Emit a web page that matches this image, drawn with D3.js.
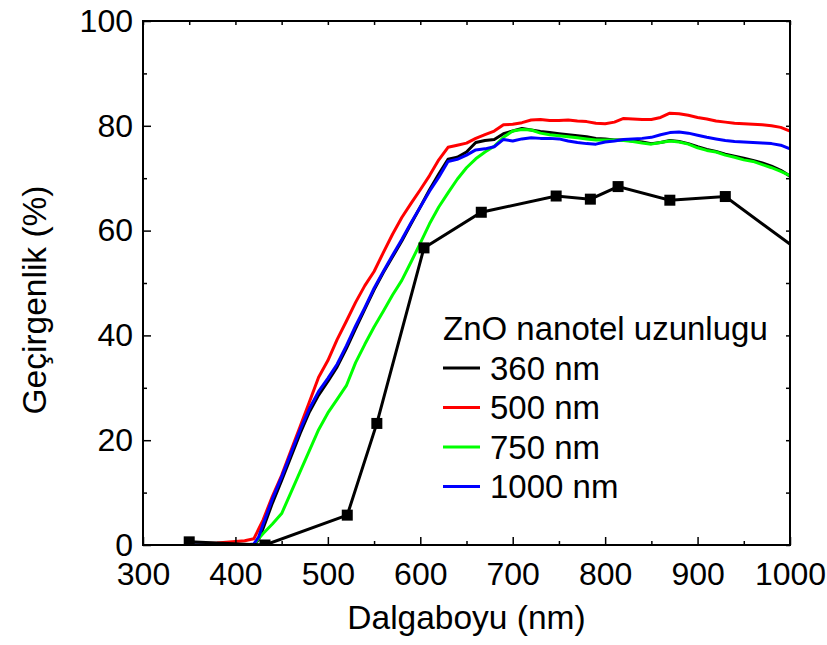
<!DOCTYPE html>
<html>
<head>
<meta charset="utf-8">
<script src="https://cdn.jsdelivr.net/npm/d3@7"></script>
<style>
  body { margin: 0; background: #fff; }
  text { font-family: "Liberation Sans", Arial, sans-serif; fill: #000; }
</style>
</head>
<body>
<svg id="chart" width="827" height="645"></svg>
<script>
// wavelength grid (nm) for the measured spectra
var wavelengths = [350, 380, 410, 420, 425, 430, 440, 450, 460, 470, 480, 490, 500, 510, 520, 530, 540, 550, 560, 570,
    580, 590, 600, 610, 620, 630, 640, 650, 660, 670, 680, 690, 700, 710, 720, 730, 740, 750, 760, 770,
    780, 790, 800, 810, 820, 830, 840, 850, 860, 870, 880, 890, 900, 910, 920, 930, 940, 950, 960, 970,
    980, 990, 1000];

// transmittance (%) per nanowire length
var t360 = [0, 0, 0, 0, 1.0, 3.2, 8.0, 12.3, 16.8, 21.3, 25.4, 28.6, 31.2, 34.0, 37.5, 41.3, 45.0, 48.7, 52.0, 55.0,
    58.0, 61.3, 64.5, 67.8, 70.8, 73.6, 74.0, 75.0, 76.8, 77.2, 77.4, 78.5, 79.0, 79.5, 79.2, 78.9, 78.7, 78.5, 78.3, 78.1,
    77.9, 77.6, 77.5, 77.3, 77.3, 77.1, 76.9, 76.6, 76.8, 77.2, 77.0, 76.6, 76.0, 75.5, 75.1, 74.6, 74.2, 73.8, 73.4, 72.9,
    72.3, 71.5, 70.4];
var t500 = [0.2, 0.4, 0.8, 1.2, 3.0, 4.8, 9.3, 13.3, 18.0, 22.6, 27.3, 32.0, 35.2, 39.2, 42.7, 46.3, 49.5, 52.2, 55.8, 59.3,
    62.5, 65.2, 67.8, 70.5, 73.5, 75.9, 76.3, 76.7, 77.6, 78.3, 79.0, 80.2, 80.3, 80.6, 81.1, 81.2, 81.0, 81.0, 81.1, 80.9,
    80.8, 80.5, 80.4, 80.7, 81.4, 81.3, 81.2, 81.2, 81.6, 82.4, 82.3, 82.0, 81.6, 81.3, 80.9, 80.7, 80.5, 80.4, 80.3, 80.2,
    80.0, 79.7, 79.0];
var t750 = [0, 0, 0, 0, 1.2, 2.2, 4.0, 6.0, 10.0, 14.0, 18.0, 22.0, 25.2, 27.8, 30.4, 34.8, 38.3, 41.6, 44.6, 47.7,
    50.5, 54.0, 57.6, 61.3, 64.5, 67.2, 69.8, 72.0, 73.7, 75.0, 76.1, 77.8, 79.0, 79.3, 79.2, 78.6, 78.3, 78.1, 77.9, 77.7,
    77.5, 77.3, 77.3, 77.3, 77.2, 77.0, 76.7, 76.5, 76.8, 77.1, 76.9, 76.5, 75.8, 75.3, 75.0, 74.4, 74.0, 73.5, 73.2, 72.6,
    72.0, 71.3, 70.5];
var t1000 = [0, 0, 0, 0.2, 1.5, 4.0, 8.8, 13.0, 17.5, 22.0, 26.0, 29.3, 31.8, 34.5, 38.0, 41.8, 45.3, 49.0, 52.2, 55.3,
    58.3, 61.5, 64.5, 67.5, 70.2, 73.2, 73.6, 74.4, 75.4, 75.6, 76.0, 77.4, 77.1, 77.5, 77.7, 77.6, 77.6, 77.5, 77.1, 76.8,
    76.6, 76.5, 76.9, 77.1, 77.4, 77.5, 77.6, 77.8, 78.3, 78.7, 78.8, 78.6, 78.2, 77.8, 77.5, 77.2, 77.0, 76.9, 76.8, 76.7,
    76.6, 76.3, 75.6];

// the line with square markers (not in legend)
var markerX = [350, 432, 521, 553, 604, 666, 747, 784, 814, 870, 930, 1030];
var markerY = [0.6, 0, 5.7, 23.2, 56.7, 63.5, 66.6, 66.0, 68.4, 65.8, 66.5, 53.5];

var seriesNames = ["360 nm", "500 nm", "750 nm", "1000 nm"];
var seriesValues = [t360, t500, t750, t1000];
var seriesColors = ["#000000", "#ff0000", "#00ff00", "#0000ff"];
var drawOrder = [0, 1, 2, 3];

var xTicks = [300, 400, 500, 600, 700, 800, 900, 1000];
var yTicks = [0, 20, 40, 60, 80, 100];

var margin = {left: 143, top: 21, right: 37, bottom: 100};
var width = 827 - margin.left - margin.right;
var height = 645 - margin.top - margin.bottom;

var svg = d3.select('#chart');
var g = svg.append('g').attr('transform', 'translate(' + margin.left + ',' + margin.top + ')');

var x = d3.scaleLinear().domain([300, 1000]).range([0, width]);
var y = d3.scaleLinear().domain([0, 100]).range([height, 0]);

g.append('clipPath').attr('id', 'plotclip')
    .append('rect').attr('width', width).attr('height', height);

var plot = g.append('g').attr('clip-path', 'url(#plotclip)');

var line = d3.line()
    .x(d => x(d[0]))
    .y(d => y(d[1]));

// spectra
drawOrder.forEach(function(i) {
    var pts = wavelengths.map((w, k) => [w, seriesValues[i][k]]);
    plot.append('path')
        .datum(pts)
        .attr('fill', 'none')
        .attr('stroke', seriesColors[i])
        .attr('stroke-width', 3)
        .attr('stroke-linejoin', 'round')
        .attr('d', line);
});

// marker series
var mpts = markerX.map((w, k) => [w, markerY[k]]);
plot.append('path')
    .datum(mpts)
    .attr('fill', 'none')
    .attr('stroke', '#000')
    .attr('stroke-width', 3)
    .attr('d', line);
plot.selectAll('rect.mk')
    .data(mpts)
    .join('rect')
    .attr('class', 'mk')
    .attr('x', d => x(d[0]) - 5.5)
    .attr('y', d => y(d[1]) - 5.5)
    .attr('width', 11)
    .attr('height', 11)
    .attr('fill', '#000');

// axes: ticks pointing inward on all four sides
var xMinor = d3.range(350, 1000, 100);
var yMinor = d3.range(10, 100, 20);

g.append('g').attr('transform', 'translate(0,' + height + ')')
    .call(d3.axisBottom(x).tickValues(xTicks).tickSize(-8).tickPadding(17).tickFormat(d3.format('d')));
g.append('g').attr('transform', 'translate(0,' + height + ')')
    .call(d3.axisBottom(x).tickValues(xMinor).tickSize(-4).tickFormat(''));

g.append('g')
    .call(d3.axisLeft(y).tickValues(yTicks).tickSize(-8).tickPadding(10).tickFormat(d3.format('d')));
g.append('g')
    .call(d3.axisLeft(y).tickValues(yMinor).tickSize(-4).tickFormat(''));

g.append('g')
    .call(d3.axisTop(x).tickValues(xTicks.concat(xMinor)).tickSize(-4).tickFormat(''));
g.append('g').attr('transform', 'translate(' + width + ',0)')
    .call(d3.axisRight(y).tickValues(yTicks.concat(yMinor)).tickSize(-4).tickFormat(''));

g.selectAll('.domain').remove();
g.selectAll('.tick line').attr('stroke', '#000').attr('stroke-width', 1.5);
g.selectAll('.tick text')
    .attr('font-size', 32)
    .attr('font-family', '"Liberation Sans", Arial, sans-serif');

// frame
g.append('rect')
    .attr('width', width).attr('height', height)
    .attr('fill', 'none').attr('stroke', '#000').attr('stroke-width', 2);

// axis titles
g.append('text')
    .attr('x', width / 2).attr('y', height + 84)
    .attr('text-anchor', 'middle')
    .attr('font-size', 33.5)
    .text('Dalgaboyu (nm)');

g.append('text')
    .attr('transform', 'translate(' + (-97) + ',' + (300 - margin.top) + ') rotate(-90)')
    .attr('text-anchor', 'middle')
    .attr('font-size', 33.5)
    .text('Geçirgenlik (%)');

// legend
var legend = g.append('g').attr('transform', 'translate(' + (443 - margin.left) + ',' + (328 - margin.top) + ')');
legend.append('text')
    .attr('x', 0).attr('y', 0).attr('dy', '0.35em')
    .attr('font-size', 33)
    .text('ZnO nanotel uzunlugu');
seriesNames.forEach(function(name, i) {
    var yy = 40 + i * 39.5;
    legend.append('line')
        .attr('x1', 0).attr('x2', 37).attr('y1', yy).attr('y2', yy)
        .attr('stroke', seriesColors[i]).attr('stroke-width', 3);
    legend.append('text')
        .attr('x', 47).attr('y', yy).attr('dy', '0.35em')
        .attr('font-size', 33)
        .text(name);
});
</script>
</body>
</html>
